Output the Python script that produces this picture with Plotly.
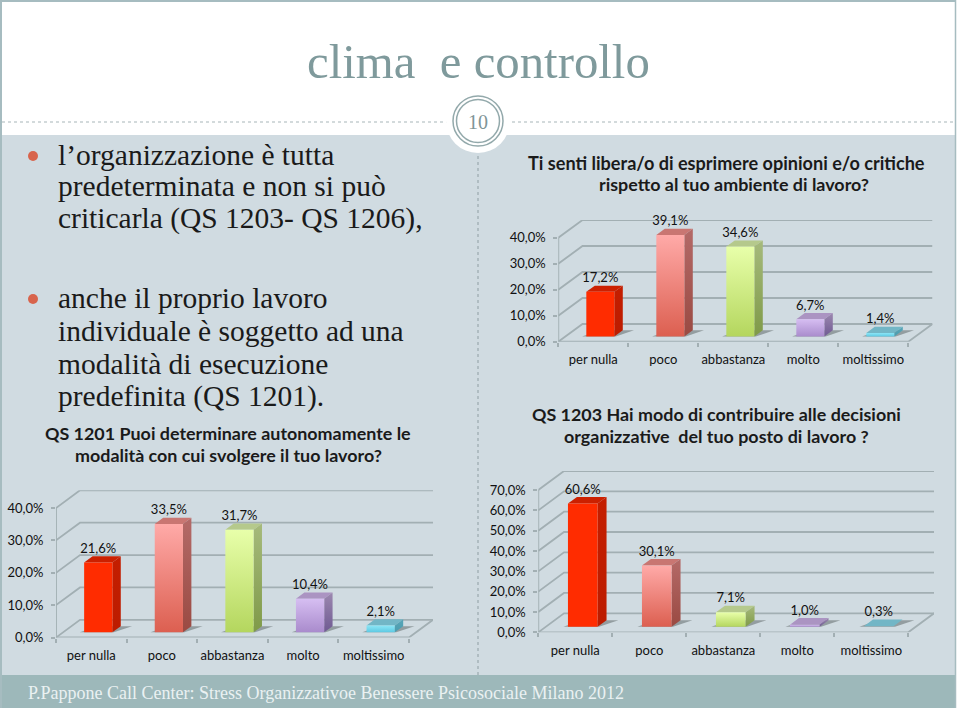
import plotly.graph_objects as go

W, H = 960, 712
categories = ["per nulla", "poco", "abbastanza", "molto", "moltissimo"]
values_qs1201 = [21.6, 33.5, 31.7, 10.4, 2.1]
values_qs1206 = [17.2, 39.1, 34.6, 6.7, 1.4]
values_qs1203 = [60.6, 30.1, 7.1, 1.0, 0.3]
ticks_qs1201 = [0, 10, 20, 30, 40]
ticks_qs1206 = [0, 10, 20, 30, 40]
ticks_qs1203 = [0, 10, 20, 30, 40, 50, 60, 70]
title_text = "clima  e controllo"
bullet1 = ["l’organizzazione è tutta", "predeterminata e non si può", "criticarla (QS 1203- QS 1206),"]
bullet2 = ["anche il proprio lavoro", "individuale è soggetto ad una", "modalità di esecuzione", "predefinita (QS 1201)."]
footer_text = "P.Pappone Call Center: Stress Organizzativoe Benessere Psicosociale Milano 2012"

SERIF = "Liberation Serif"
SANS = "Lato"
GRID = "#a2afb3"
PANEL = "#d0dbe1"
FOOT = "#9db8ba"
TEAL = "#7f9a9c"

# front colour top, front colour bottom, top face, side top, side bottom
PALETTE = [
    ("#ff2c00", "#ff2c00", "#cc2000", "#c41e00", "#bc1c00"),
    ("#ffaaa8", "#dc5f50", "#c97672", "#b46a68", "#9a4a42"),
    ("#e8ffaa", "#b4d65e", "#b5c98c", "#a6ba7c", "#7f9a48"),
    ("#d6bef2", "#a98bcc", "#ab94c2", "#9c88b0", "#6f5a92"),
    ("#8ce6f6", "#5cc8e2", "#72b6c6", "#5aa6b8", "#4a9cae"),
]

fig = go.Figure()


def px(x):
    return x / W


def py(y):
    return 1 - y / H


def fmt(v):
    return f"{v:.1f}%".replace(".", ",")


def draw_chart(n, values, ticks, left, right, back_right, zero_y, top_y, back_dy):
    """left/right/zero_y/top_y: pixel box of the chart's front plane."""
    xa, ya = f"x{n}", f"y{n}"
    cat_w = (right - left) / len(values)
    k = (zero_y - top_y) / ticks[-1]
    DX = (back_right - right) / cat_w
    DY = back_dy / k
    vmax = ticks[-1]
    xr = [0, len(values) + DX]
    yr = [0, vmax + DY]

    def add_line(xs, ys):
        fig.add_trace(go.Scatter(x=xs, y=ys, xaxis=xa, yaxis=ya, mode="lines", cliponaxis=False,
                                 line=dict(color=GRID, width=1.8), hoverinfo="skip", showlegend=False))

    def add_poly(pts, color=None, grad=None):
        xs = [p[0] for p in pts] + [pts[0][0]]
        ys = [p[1] for p in pts] + [pts[0][1]]
        kw = dict(fillcolor=color) if grad is None else dict(
            fillgradient=dict(type="vertical", colorscale=[[0, grad[1]], [1, grad[0]]]))
        fig.add_trace(go.Scatter(x=xs, y=ys, xaxis=xa, yaxis=ya, mode="lines", fill="toself",
                                 line=dict(width=0), cliponaxis=False, hoverinfo="skip",
                                 showlegend=False, **kw))

    def P(x, d, v):
        return (x + d * DX, v + d * DY)

    for t in ticks:
        add_line([0, DX, len(values) + DX], [t, t + DY, t + DY])
    add_line([0, 0], [0, vmax])
    add_line([0, len(values), len(values) + DX], [0, 0, DY])

    d1, d2 = 0.29, 0.64
    for i, v in enumerate(values):
        x0, x1 = i + 0.30, i + 0.70
        c = PALETTE[i]
        add_poly([P(x0 - 0.06, d1, 0), P(x1 + 0.02, d1, 0), P(x1 + 0.16, d2, 0), P(x0 + 0.06, d2, 0)],
                 color="rgba(85,95,95,0.5)")
        add_poly([P(x0, d1, v), P(x1, d1, v), P(x1, d2, v), P(x0, d2, v)], color=c[2])
        add_poly([P(x1, d1, 0), P(x1, d2, 0), P(x1, d2, v), P(x1, d1, v)], grad=(c[3], c[4]))
        add_poly([P(x0, d1, 0), P(x1, d1, 0), P(x1, d1, v), P(x0, d1, v)], grad=(c[0], c[1]))

    fig.add_trace(go.Scatter(
        x=[P(i + 0.5, d1, 0)[0] for i in range(len(values))],
        y=[v + d2 * DY for v in values],
        xaxis=xa, yaxis=ya, mode="text", cliponaxis=False,
        text=[fmt(v) for v in values], textposition="top center",
        textfont=dict(family=SANS, size=13, color="#111"),
        hoverinfo="skip", showlegend=False))

    sfx = "" if n == 1 else str(n)
    fig.update_layout(**{
        "xaxis" + sfx: dict(
            domain=[px(left), px(back_right)], range=xr, anchor=ya, automargin=False,
            tickmode="array", tickvals=[i + 0.5 for i in range(len(values))], ticktext=categories,
            ticks="outside", ticklen=6, tickcolor="rgba(0,0,0,0)",
            tickfont=dict(family=SANS, size=13, color="#111"),
            showgrid=False, zeroline=False, showline=False,
            minor=dict(tickmode="array", tickvals=list(range(len(values) + 1)), ticks="outside",
                       ticklen=4, tickcolor=GRID, tickwidth=1.5, showgrid=False),
        ),
        "yaxis" + sfx: dict(
            domain=[py(zero_y), py(top_y - back_dy)], range=yr, anchor=xa, automargin=False,
            tickmode="array", tickvals=ticks, ticktext=[fmt(float(t)) for t in ticks],
            ticks="outside", ticklen=4, tickcolor=GRID, tickwidth=1.5, ticklabelstandoff=5,
            tickfont=dict(family=SANS, size=13, color="#111"),
            showgrid=False, zeroline=False, showline=False,
        ),
    })


draw_chart(1, values_qs1201, ticks_qs1201, 56, 409, 433, 637.5, 508, 17.7)
draw_chart(2, values_qs1206, ticks_qs1206, 558.3, 908.3, 932.5, 341.7, 237.7, 17.7)
draw_chart(3, values_qs1203, ticks_qs1203, 538.3, 908.3, 934, 632.3, 490, 19)

shapes = [
    dict(type="rect", x0=0, x1=960, y0=0, y1=712, fillcolor="white"),
    dict(type="rect", x0=2, x1=955, y0=135, y1=675, fillcolor=PANEL),
    dict(type="rect", x0=2, x1=955, y0=675, y1=708, fillcolor=FOOT),
    dict(type="line", x0=0, x1=956, y0=1, y1=1, line=dict(color="#a6bcc0", width=2)),
    dict(type="line", x0=1, x1=1, y0=0, y1=708, line=dict(color="#a6bcc0", width=2)),
    dict(type="line", x0=955.5, x1=955.5, y0=0, y1=708, line=dict(color="#a6bcc0", width=1.5)),
    dict(type="line", x0=2, x1=955, y0=122, y1=122, line=dict(color="#a7b5b8", width=1, dash="dot")),
    dict(type="line", x0=478, x1=478, y0=150, y1=675, line=dict(color="#8f9ea3", width=1, dash="dot")),
    dict(type="circle", x0=446, x1=510, y0=89, y1=153, fillcolor="white"),
    dict(type="circle", x0=453, x1=503, y0=96, y1=146, fillcolor="white", line=dict(color="#93a9ab", width=1.5)),
    dict(type="circle", x0=456.5, x1=499.5, y0=99.5, y1=142.5, fillcolor="white", line=dict(color="#93a9ab", width=1.5)),
    dict(type="circle", x0=28, x1=38, y0=151, y1=161, fillcolor="#d8644c"),
    dict(type="circle", x0=28, x1=38, y0=294, y1=304, fillcolor="#d8644c"),
]
for s in shapes:
    s.update(xref="paper", yref="paper", layer="below")
    s["x0"], s["x1"] = px(s["x0"]), px(s["x1"])
    s["y0"], s["y1"] = py(s["y0"]), py(s["y1"])
    s.setdefault("line", dict(width=0))


anns = []


def text(x, y, s, size, family=SERIF, color="#1a1a1a", anchor="left", bold=False):
    anns.append(dict(x=px(x), y=py(y), xref="paper", yref="paper", text=f"<b>{s}</b>" if bold else s,
                     xanchor=anchor, yanchor="middle", showarrow=False,
                     font=dict(family=family, size=size, color=color)))


text(478.5, 62, title_text, 48.8, color=TEAL, anchor="center")
text(478, 122, "10", 20, color="#7f9597", anchor="center")
for s, y in zip(bullet1, [155, 186, 218]):
    text(55.5, y, s, 29.5)
for s, y in zip(bullet2, [298, 331, 364, 397]):
    text(55.5, y, s, 29.5)
text(228, 432.5, "QS 1201 Puoi determinare autonomamente le", 17.9, SANS, anchor="center", bold=True)
text(228, 454.5, "modalità con cui svolgere il tuo lavoro?", 17.9, SANS, anchor="center", bold=True)
text(726, 162.5, "Ti senti libera/o di esprimere opinioni e/o critiche", 18.1, SANS, anchor="center", bold=True)
text(734, 183.5, "rispetto al tuo ambiente di lavoro?", 17.9, SANS, anchor="center", bold=True)
text(716.5, 413.5, "QS 1203 Hai modo di contribuire alle decisioni", 17.9, SANS, anchor="center", bold=True)
text(716.5, 435.5, "organizzative  del tuo posto di lavoro ?", 17.9, SANS, anchor="center", bold=True)
text(26, 693, footer_text, 18, color="#eaf1f2")

fig.update_layout(width=W, height=H, autosize=False, margin=dict(l=0, r=0, t=0, b=0), paper_bgcolor="white",
                  plot_bgcolor="rgba(0,0,0,0)", showlegend=False, shapes=shapes, annotations=anns)
fig.write_html("out.html", default_width="960px", default_height="712px",
               config=dict(responsive=False, displayModeBar=False),
               post_script="document.body.style.margin='0';")
